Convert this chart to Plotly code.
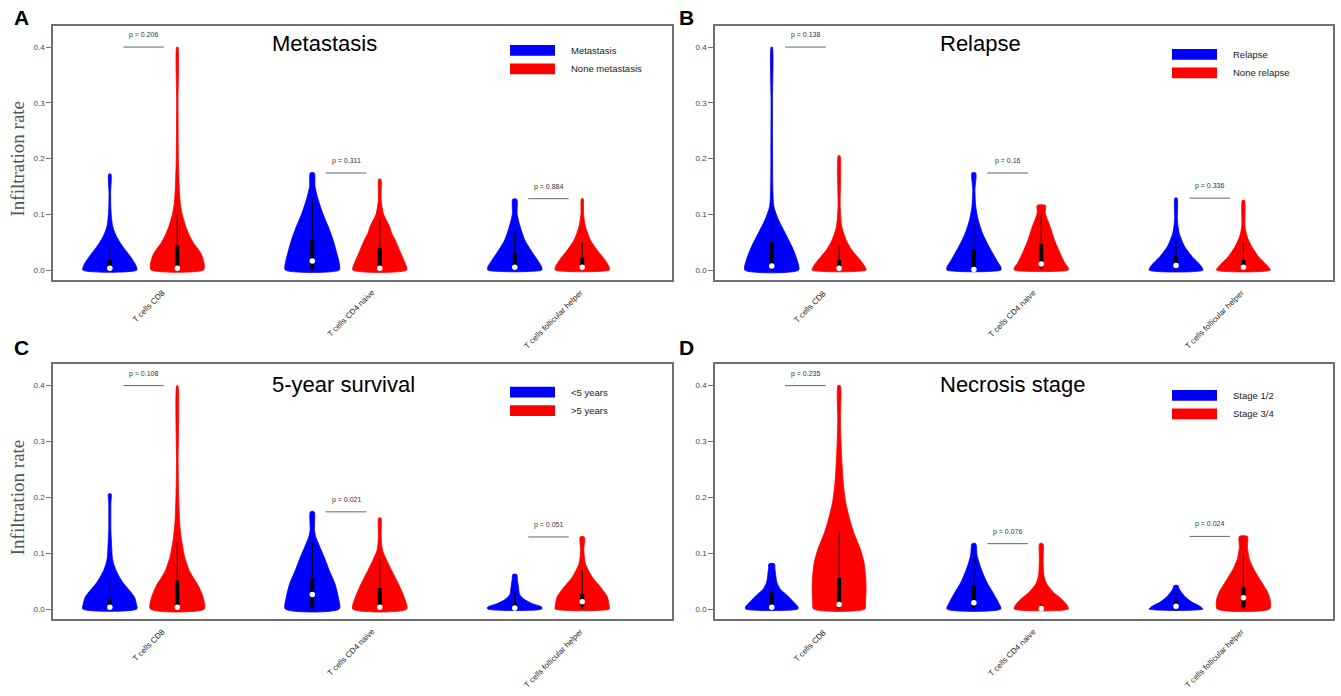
import plotly.graph_objects as go

W, H = 1341, 696

# ---------------------------------------------------------------- data
cell_types = ["T cells CD8", "T cells CD4 naive", "T cells follicular helper"]
positions = [1, 2, 4, 5, 7, 8]          # blue/red pair for each cell type
group_colors = ["#0000FF", "#FF0000"]
y_ticks = [0.0, 0.1, 0.2, 0.3, 0.4]

panel_letters = ["A", "B", "C", "D"]
panel_titles = ["Metastasis", "Relapse", "5-year survival", "Necrosis stage"]
legend_labels = [
    ["Metastasis", "None metastasis"],
    ["Relapse", "None relapse"],
    ["<5 years", ">5 years"],
    ["Stage 1/2", "Stage 3/4"],
]
p_values = [
    ["0.206", "0.311", "0.884"],
    ["0.138", "0.16", "0.336"],
    ["0.108", "0.021", "0.051"],
    ["0.235", "0.076", "0.024"],
]

# density profiles: infiltration levels and relative half-widths (1 = widest)
metastasis_levels = [
    [0, 0.01, 0.02, 0.03, 0.04, 0.05, 0.06, 0.07, 0.08, 0.09, 0.11, 0.14, 0.172],
    [0, 0.01, 0.02, 0.03, 0.04, 0.05, 0.06, 0.07, 0.08, 0.10, 0.12, 0.15, 0.20, 0.30, 0.40],
    [0, 0.012, 0.03, 0.054, 0.078, 0.10, 0.126, 0.15, 0.174],
    [0, 0.012, 0.03, 0.054, 0.066, 0.078, 0.10, 0.126, 0.163],
    [0, 0.005, 0.018, 0.036, 0.054, 0.078, 0.10, 0.127],
    [0, 0.005, 0.018, 0.036, 0.054, 0.078, 0.10, 0.128],
]
metastasis_widths = [
    [1.0, 0.95, 0.82, 0.67, 0.51, 0.37, 0.25, 0.16, 0.10, 0.07, 0.04, 0.03, 0.04],
    [0.97, 1.0, 0.95, 0.87, 0.73, 0.58, 0.47, 0.38, 0.30, 0.18, 0.11, 0.07, 0.04, 0.025, 0.02],
    [1.0, 1.0, 0.91, 0.77, 0.59, 0.40, 0.22, 0.10, 0.075],
    [1.0, 0.94, 0.78, 0.57, 0.44, 0.36, 0.14, 0.05, 0.04],
    [1.0, 1.0, 0.84, 0.59, 0.37, 0.20, 0.09, 0.075],
    [1.0, 1.0, 0.84, 0.55, 0.30, 0.12, 0.05, 0.03],
]
relapse_levels = [
    [0, 0.018, 0.042, 0.066, 0.09, 0.114, 0.15, 0.21, 0.30, 0.40],
    [0, 0.006, 0.018, 0.036, 0.054, 0.078, 0.114, 0.205],
    [0, 0.005, 0.018, 0.042, 0.066, 0.09, 0.114, 0.144, 0.174],
    [0, 0.004, 0.012, 0.03, 0.054, 0.078, 0.102, 0.116],
    [0, 0.009, 0.024, 0.042, 0.066, 0.09, 0.129],
    [0, 0.009, 0.024, 0.042, 0.06, 0.078, 0.125],
]
relapse_widths = [
    [1.0, 0.94, 0.75, 0.50, 0.25, 0.08, 0.04, 0.03, 0.025, 0.02],
    [1.0, 0.96, 0.78, 0.47, 0.26, 0.10, 0.04, 0.03],
    [1.0, 1.0, 0.84, 0.56, 0.32, 0.16, 0.07, 0.04, 0.07],
    [1.0, 1.0, 0.88, 0.70, 0.49, 0.33, 0.15, 0.15],
    [1.0, 0.90, 0.60, 0.32, 0.12, 0.05, 0.04],
    [1.0, 0.86, 0.56, 0.31, 0.14, 0.06, 0.04],
]
survival_levels = [
    [0, 0.01, 0.0215, 0.033, 0.045, 0.057, 0.069, 0.081, 0.093, 0.111, 0.141, 0.19, 0.206],
    [0, 0.0215, 0.033, 0.045, 0.057, 0.069, 0.081, 0.093, 0.111, 0.129, 0.153, 0.20, 0.26, 0.40],
    [0, 0.0215, 0.045, 0.069, 0.093, 0.111, 0.129, 0.141, 0.174],
    [0, 0.0215, 0.045, 0.069, 0.087, 0.105, 0.129, 0.163],
    [0, 0.0036, 0.0096, 0.0155, 0.0215, 0.0275, 0.039, 0.051, 0.062],
    [0, 0.005, 0.0215, 0.039, 0.057, 0.081, 0.105, 0.129],
]
survival_widths = [
    [1.0, 0.98, 0.91, 0.73, 0.52, 0.36, 0.23, 0.14, 0.09, 0.07, 0.04, 0.04, 0.05],
    [1.0, 0.95, 0.86, 0.74, 0.58, 0.44, 0.35, 0.27, 0.20, 0.14, 0.09, 0.05, 0.03, 0.02],
    [1.0, 0.96, 0.84, 0.63, 0.44, 0.28, 0.13, 0.08, 0.07],
    [1.0, 0.90, 0.69, 0.44, 0.26, 0.10, 0.05, 0.04],
    [1.0, 1.0, 0.65, 0.41, 0.25, 0.17, 0.14, 0.10, 0.07],
    [1.0, 1.0, 0.93, 0.68, 0.37, 0.12, 0.06, 0.075],
]
necrosis_levels = [
    [0, 0.004, 0.0126, 0.025, 0.036, 0.048, 0.072, 0.081],
    [0, 0.0126, 0.036, 0.06, 0.084, 0.108, 0.132, 0.156, 0.192, 0.228, 0.276, 0.335, 0.40],
    [0, 0.0126, 0.03, 0.048, 0.072, 0.096, 0.117],
    [0, 0.006, 0.018, 0.03, 0.045, 0.06, 0.09, 0.117],
    [0, 0.006, 0.012, 0.02, 0.03, 0.038, 0.042],
    [0, 0.015, 0.03, 0.05, 0.07, 0.09, 0.11, 0.13],
]
necrosis_widths = [
    [0.97, 0.97, 0.81, 0.56, 0.31, 0.19, 0.12, 0.10],
    [0.95, 0.98, 1.0, 0.98, 0.92, 0.78, 0.58, 0.42, 0.24, 0.15, 0.09, 0.05, 0.04],
    [1.0, 0.90, 0.70, 0.48, 0.27, 0.12, 0.07],
    [1.0, 0.97, 0.75, 0.45, 0.20, 0.10, 0.07, 0.06],
    [1.0, 0.85, 0.60, 0.38, 0.20, 0.10, 0.08],
    [0.97, 1.0, 0.90, 0.65, 0.40, 0.22, 0.15, 0.15],
]

# box-plot summaries per violin (panel order A, B, C, D)
box_q1 = [
    [0.003, 0.005, 0.0, 0.003, 0.003, 0.002],
    [0.003, 0.003, 0.001, 0.005, 0.003, 0.003],
    [0.002, 0.003, 0.002, 0.003, 0.001, 0.005],
    [0.002, 0.003, 0.002, 0.0, 0.001, 0.003],
]
box_median = [
    [0.003, 0.003, 0.016, 0.003, 0.005, 0.005],
    [0.007, 0.003, 0.001, 0.011, 0.008, 0.005],
    [0.003, 0.003, 0.026, 0.003, 0.002, 0.013],
    [0.003, 0.008, 0.011, 0.001, 0.005, 0.020],
]
box_q3 = [
    [0.018, 0.045, 0.055, 0.040, 0.030, 0.022],
    [0.050, 0.018, 0.037, 0.047, 0.025, 0.018],
    [0.018, 0.051, 0.055, 0.038, 0.012, 0.027],
    [0.030, 0.056, 0.042, 0.004, 0.015, 0.040],
]
box_whisker = [
    [0.045, 0.10, 0.13, 0.09, 0.07, 0.05],
    [0.12, 0.045, 0.09, 0.10, 0.055, 0.05],
    [0.045, 0.12, 0.12, 0.09, 0.03, 0.07],
    [0.06, 0.14, 0.10, 0.01, 0.03, 0.10],
]

all_levels = [metastasis_levels, relapse_levels, survival_levels, necrosis_levels]
all_widths = [metastasis_widths, relapse_widths, survival_widths, necrosis_widths]

# ---------------------------------------------------------------- layout helpers
def fx(px):
    return px / W


def fy(py):
    return 1 - py / H


# plot-area boxes in pixels: left, right, top, bottom
panel_boxes = [
    (53, 672, 25.5, 279.5),
    (715, 1333, 25.5, 279.5),
    (53, 672, 364, 618.5),
    (715, 1333, 364, 618.5),
]
letter_pos = [(21, 17), (686, 17), (21, 347), (686, 347)]
title_pos = [(270, 43.5), (938, 44), (270, 384), (938, 384)]
legend_top = [45, 49, 386.7, 390]
x_range = [0.158, 9.33]
y_range = [-0.017, 0.4387]
HALF = 0.4
FRAME = "#707070"

fig = go.Figure()
annotations = []
shapes = []

for k in range(4):
    ax = "" if k == 0 else str(k + 1)
    xref, yref = "x" + ax, "y" + ax
    left, right, top, bottom = panel_boxes[k]

    for i, pos in enumerate(positions):
        color = group_colors[i % 2]
        lv = all_levels[k][i]
        wd = all_widths[k][i]
        xs = [pos - HALF * w for w in wd] + [pos + HALF * w for w in reversed(wd)]
        ys = list(lv) + list(reversed(lv))
        xs.append(xs[0])
        ys.append(ys[0])
        fig.add_trace(go.Scatter(
            x=xs, y=ys, mode="lines", fill="toself", fillcolor=color,
            line=dict(color=color, width=0.8, shape="spline", smoothing=0.7),
            hoverinfo="skip", showlegend=False, xaxis=xref, yaxis=yref))
        # whisker
        fig.add_trace(go.Scatter(
            x=[pos, pos], y=[lv[0], box_whisker[k][i]], mode="lines",
            line=dict(color="black", width=1), hoverinfo="skip",
            showlegend=False, xaxis=xref, yaxis=yref))
        # interquartile box
        fig.add_trace(go.Scatter(
            x=[pos, pos], y=[box_q1[k][i], box_q3[k][i]], mode="lines",
            line=dict(color="black", width=4), hoverinfo="skip",
            showlegend=False, xaxis=xref, yaxis=yref))
        # median
        fig.add_trace(go.Scatter(
            x=[pos], y=[box_median[k][i]], mode="markers",
            marker=dict(color="white", size=5.5, line=dict(width=0)),
            hoverinfo="skip", showlegend=False, xaxis=xref, yaxis=yref))

    # p-value brackets
    for j, cell in enumerate(cell_types):
        p_blue, p_red = positions[2 * j], positions[2 * j + 1]
        center = (p_blue + p_red) / 2
        y_line = max(all_levels[k][2 * j][-1], all_levels[k][2 * j + 1][-1])
        fig.add_trace(go.Scatter(
            x=[center - 0.3, center + 0.3], y=[y_line, y_line], mode="lines",
            line=dict(color="#666666", width=1), hoverinfo="skip",
            showlegend=False, xaxis=xref, yaxis=yref))
        annotations.append(dict(
            x=center, y=y_line, xref=xref, yref=yref, yshift=12,
            text="p = " + p_values[k][j], showarrow=False,
            font=dict(family="Liberation Sans, Arial", size=7, color="#333333")))
        # rotated category label
        annotations.append(dict(
            x=center, xref=xref, xshift=5, y=fy(bottom + 6), yref="paper",
            text=cell, textangle=-45, showarrow=False,
            xanchor="center", yanchor="top",
            font=dict(family="Liberation Sans, Arial", size=8, color="#222222")))

    axis_common = dict(showgrid=False, zeroline=False, showline=True, mirror=True,
                       linecolor=FRAME, linewidth=1.5)
    fig.update_layout({
        "xaxis" + ax: dict(domain=[fx(left), fx(right)], range=x_range,
                           showticklabels=False, ticks="", anchor=yref,
                           **axis_common),
        "yaxis" + ax: dict(domain=[fy(bottom), fy(top)], range=y_range,
                           tickvals=y_ticks, ticktext=[f"{v:.1f}" for v in y_ticks],
                           ticks="outside", ticklen=5, tickcolor=FRAME,
                           tickfont=dict(family="Liberation Sans, Arial", size=8,
                                         color="#444444"),
                           anchor=xref, **axis_common),
    })

    # panel letter and title
    lx, ly = letter_pos[k]
    annotations.append(dict(
        x=fx(lx), y=fy(ly), xref="paper", yref="paper", text="<b>%s</b>" % panel_letters[k],
        showarrow=False, xanchor="center", yanchor="middle",
        font=dict(family="Liberation Sans, Arial", size=21, color="black")))
    tx, ty = title_pos[k]
    annotations.append(dict(
        x=fx(tx), y=fy(ty), xref="paper", yref="paper", text=panel_titles[k],
        showarrow=False, xanchor="left", yanchor="middle",
        font=dict(family="Liberation Sans, Arial", size=22, color="black")))

    # legend swatches
    lgx = left + 457
    for g in range(2):
        y0 = legend_top[k] + g * 18.5
        shapes.append(dict(type="rect", xref="paper", yref="paper",
                           x0=fx(lgx), x1=fx(lgx + 45), y0=fy(y0 + 10.7), y1=fy(y0),
                           fillcolor=group_colors[g], line=dict(width=0)))
        annotations.append(dict(
            x=fx(lgx + 59), y=fy(y0 + 5.3), xref="paper", yref="paper",
            text=legend_labels[k][g], showarrow=False, xanchor="left", yanchor="middle",
            font=dict(family="Liberation Sans Narrow, Arial Narrow, Liberation Sans",
                      size=9.5, color="#222222")))

# y-axis titles on the left panels
for k in (0, 2):
    left, right, top, bottom = panel_boxes[k]
    annotations.append(dict(
        x=fx(17), y=fy((top + bottom) / 2 + 6), xref="paper", yref="paper",
        text="Infiltration rate", textangle=-90, showarrow=False,
        xanchor="center", yanchor="middle",
        font=dict(family="Liberation Serif, Times New Roman, serif", size=19,
                  color="#555555")))

fig.update_layout(
    width=W, height=H, margin=dict(l=0, r=0, t=0, b=0),
    paper_bgcolor="white", plot_bgcolor="white",
    annotations=annotations, shapes=shapes, showlegend=False,
)

fig.write_html("out.html")
